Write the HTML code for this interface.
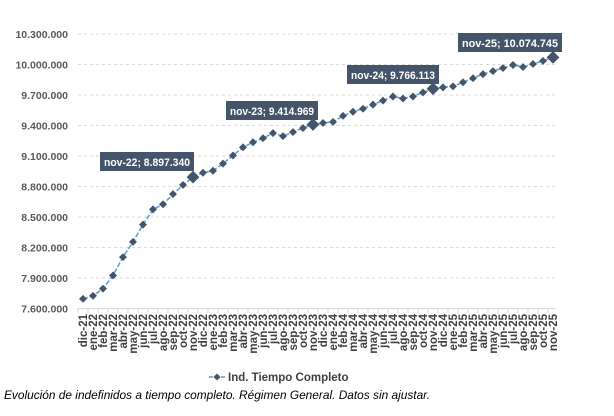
<!DOCTYPE html>
<html><head><meta charset="utf-8"><style>
body{margin:0;background:#fff;width:614px;height:411px;overflow:hidden;font-family:"Liberation Sans",sans-serif}
svg text{font-family:"Liberation Sans",sans-serif}
</style></head><body>
<svg id="s" width="614" height="411" xmlns="http://www.w3.org/2000/svg">
<g stroke="#d9d9d9" stroke-dasharray="3,3" stroke-width="1">
<line x1="78" x2="556" y1="34" y2="34"/><line x1="78" x2="556" y1="64.5" y2="64.5"/><line x1="78" x2="556" y1="95" y2="95"/><line x1="78" x2="556" y1="125.5" y2="125.5"/><line x1="78" x2="556" y1="156" y2="156"/><line x1="78" x2="556" y1="186.5" y2="186.5"/><line x1="78" x2="556" y1="217" y2="217"/><line x1="78" x2="556" y1="247.5" y2="247.5"/><line x1="78" x2="556" y1="278" y2="278"/>
</g>
<line x1="78" x2="556" y1="308.5" y2="308.5" stroke="#d9d9d9"/>
<g font-size="10.5" font-weight="bold" fill="#595959" text-anchor="end">
<text x="68" y="38">10.300.000</text><text x="68" y="68.5">10.000.000</text><text x="68" y="99">9.700.000</text><text x="68" y="129.5">9.400.000</text><text x="68" y="160">9.100.000</text><text x="68" y="190.5">8.800.000</text><text x="68" y="221">8.500.000</text><text x="68" y="251.5">8.200.000</text><text x="68" y="282">7.900.000</text><text x="68" y="312.5">7.600.000</text>
</g>
<g id="ticks" stroke="#d9d9d9"></g>
<g id="xl" font-size="11.5" font-weight="bold" fill="#404040" text-anchor="end"></g>
<polyline id="ln" fill="none" stroke="#5b9bd5" stroke-width="1.5" stroke-dasharray="5,2"/>
<g id="mk" fill="#44546a"></g>
<g font-size="11" font-weight="bold" fill="#fff">
<rect x="100" y="152" width="94" height="19" fill="#44546a"/><text x="104" y="166" textLength="86" lengthAdjust="spacingAndGlyphs">nov-22; 8.897.340</text>
<rect x="226" y="101" width="92" height="19" fill="#44546a"/><text x="230" y="115" textLength="84" lengthAdjust="spacingAndGlyphs">nov-23; 9.414.969</text>
<rect x="347" y="65" width="92" height="19" fill="#44546a"/><text x="351" y="79" textLength="84" lengthAdjust="spacingAndGlyphs">nov-24; 9.766.113</text>
<rect x="458" y="33" width="104" height="19" fill="#44546a"/><text x="462" y="47" textLength="96" lengthAdjust="spacingAndGlyphs">nov-25; 10.074.745</text>
</g>
<line x1="209" x2="225" y1="377" y2="377" stroke="#5b9bd5" stroke-width="1.5" stroke-dasharray="4,2"/>
<rect x="214.5" y="374.5" width="5" height="5" fill="#44546a" transform="rotate(45 217 377)"/>
<text x="228" y="381" font-size="11.5" font-weight="bold" fill="#404040">Ind. Tiempo Completo</text>
<text x="4" y="399" font-size="12" font-style="italic" fill="#000" textLength="426" lengthAdjust="spacingAndGlyphs">Evolución de indefinidos a tiempo completo. Régimen General. Datos sin ajustar.</text>
</svg>
<script>
var v=[7.70,7.73,7.80,7.93,8.11,8.26,8.43,8.58,8.63,8.73,8.82,8.897,8.94,8.96,9.03,9.11,9.19,9.24,9.28,9.33,9.30,9.34,9.38,9.415,9.43,9.44,9.50,9.54,9.57,9.61,9.65,9.69,9.67,9.69,9.73,9.766,9.78,9.79,9.83,9.87,9.91,9.94,9.97,10.00,9.98,10.01,10.04,10.075];
var m=["ene","feb","mar","abr","may","jun","jul","ago","sep","oct","nov","dic"];
var ns="http://www.w3.org/2000/svg",pts=[],mk=document.getElementById("mk"),xl=document.getElementById("xl"),tk=document.getElementById("ticks");
for(var i=0;i<48;i++){var x=83+i*10,y=309-(v[i]-7.6)*101.67;pts.push(x+","+y.toFixed(1));
var big=(i==11||i==23||i==35||i==47),r=big?4.5:2.8;var p=document.createElementNS(ns,"rect");
p.setAttribute("x",x-r);p.setAttribute("y",y-r);p.setAttribute("width",2*r);p.setAttribute("height",2*r);
p.setAttribute("transform","rotate(45 "+x+" "+y+")");mk.appendChild(p);
var l=document.createElementNS(ns,"line");l.setAttribute("x1",x-5);l.setAttribute("x2",x-5);l.setAttribute("y1",308.5);l.setAttribute("y2",313);tk.appendChild(l);
var mi=(i+11)%12,yr=21+Math.floor((i+11)/12);var t=document.createElementNS(ns,"text");
t.setAttribute("transform","translate("+(x+4)+",314) rotate(-90)");t.textContent=m[mi]+"-"+yr;xl.appendChild(t);}
document.getElementById("ln").setAttribute("points",pts.join(" "));
</script>
</body></html>
